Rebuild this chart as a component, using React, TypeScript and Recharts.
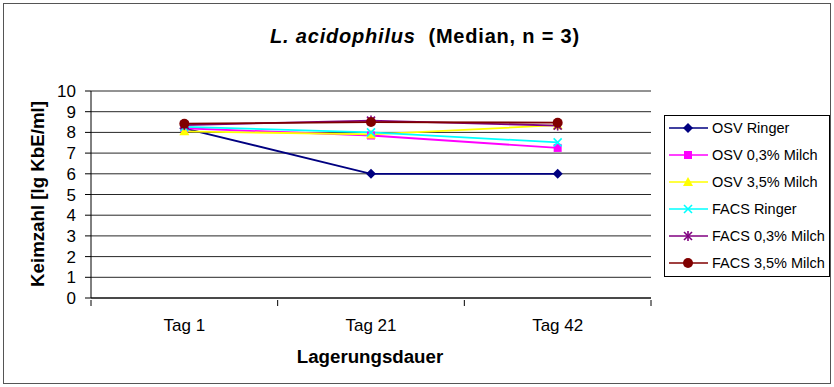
import React from "react";
import {
  LineChart,
  Line,
  XAxis,
  YAxis,
  CartesianGrid,
} from "recharts";

const FONT = "'Liberation Sans', Arial, sans-serif";

// Lagerungsdauer
const categories = ["Tag 1", "Tag 21", "Tag 42"];

// Keimzahl [lg KbE/ml], Median je Ansatz
const osvRinger = [8.2, 6.0, 6.0];
const osvMilch03 = [8.2, 7.85, 7.25];
const osvMilch35 = [8.05, 7.9, 8.35];
const facsRinger = [8.27, 8.0, 7.52];
const facsMilch03 = [8.35, 8.57, 8.33];
const facsMilch35 = [8.42, 8.5, 8.47];

const yTicks = [0, 1, 2, 3, 4, 5, 6, 7, 8, 9, 10];

type Shape = "diamond" | "square" | "triangle" | "cross" | "star" | "circle";

const series: { key: string; name: string; color: string; shape: Shape; values: number[] }[] = [
  { key: "osvRinger", name: "OSV Ringer", color: "#000080", shape: "diamond", values: osvRinger },
  { key: "osvMilch03", name: "OSV 0,3% Milch", color: "#FF00FF", shape: "square", values: osvMilch03 },
  { key: "osvMilch35", name: "OSV 3,5% Milch", color: "#FFFF00", shape: "triangle", values: osvMilch35 },
  { key: "facsRinger", name: "FACS Ringer", color: "#00FFFF", shape: "cross", values: facsRinger },
  { key: "facsMilch03", name: "FACS 0,3% Milch", color: "#800080", shape: "star", values: facsMilch03 },
  { key: "facsMilch35", name: "FACS 3,5% Milch", color: "#800000", shape: "circle", values: facsMilch35 },
];

// categories sit in the middle of each band (0.5, 1.5, 2.5)
const data = categories.map((c, i) => {
  const row: Record<string, number | string> = { name: c, x: i + 0.5 };
  series.forEach((s) => {
    row[s.key] = s.values[i];
  });
  return row;
});

const xTicks = [0, 0.5, 1, 1.5, 2, 2.5, 3];

function Marker({ shape, color, cx, cy }: { shape: Shape; color: string; cx: number; cy: number }) {
  switch (shape) {
    case "diamond":
      return (
        <polygon
          points={`${cx},${cy - 5} ${cx + 5},${cy} ${cx},${cy + 5} ${cx - 5},${cy}`}
          fill={color}
        />
      );
    case "square":
      return <rect x={cx - 4} y={cy - 4} width={8} height={8} fill={color} />;
    case "triangle":
      return (
        <polygon
          points={`${cx},${cy - 5} ${cx + 5},${cy + 4} ${cx - 5},${cy + 4}`}
          fill={color}
        />
      );
    case "cross":
      return (
        <g stroke={color} strokeWidth={1.6}>
          <line x1={cx - 4} y1={cy - 4} x2={cx + 4} y2={cy + 4} />
          <line x1={cx - 4} y1={cy + 4} x2={cx + 4} y2={cy - 4} />
        </g>
      );
    case "star":
      return (
        <g stroke={color} strokeWidth={1.6}>
          <line x1={cx - 4} y1={cy - 4} x2={cx + 4} y2={cy + 4} />
          <line x1={cx - 4} y1={cy + 4} x2={cx + 4} y2={cy - 4} />
          <line x1={cx} y1={cy - 5} x2={cx} y2={cy + 5} />
        </g>
      );
    default:
      return <circle cx={cx} cy={cy} r={5} fill={color} />;
  }
}

// tick marks between the categories, labels in the middle of each band
function CategoryTick(props: any) {
  const { x, y, payload } = props;
  const v = payload.value as number;
  if (Number.isInteger(v)) {
    return <line x1={x} y1={y - 6} x2={x} y2={y} stroke="#000" strokeWidth={1} />;
  }
  return (
    <text x={x} y={y + 25} textAnchor="middle" fontSize={17} fontFamily={FONT} fill="#000">
      {categories[Math.floor(v)]}
    </text>
  );
}

function LegendBox() {
  return (
    <div
      style={{
        position: "absolute",
        left: 664,
        top: 115,
        width: 164,
        height: 160,
        border: "1px solid #000",
        background: "#fff",
        fontFamily: FONT,
        fontSize: 14.5,
      }}
    >
      <div style={{ marginTop: -2 }}>
        {series.map((s) => (
          <div key={s.key} style={{ display: "flex", alignItems: "center", height: 27 }}>
            <svg width={47} height={14} style={{ flex: "none" }}>
              <line x1={4} y1={7} x2={43} y2={7} stroke={s.color} strokeWidth={1.5} />
              <Marker shape={s.shape} color={s.color} cx={23} cy={7} />
            </svg>
            <span style={{ whiteSpace: "nowrap" }}>{s.name}</span>
          </div>
        ))}
      </div>
    </div>
  );
}

export default function App() {
  return (
    <div
      style={{
        position: "absolute",
        left: 0,
        top: 0,
        width: 834,
        height: 387,
        background: "#fff",
        fontFamily: FONT,
      }}
    >
      <div
        style={{
          position: "absolute",
          left: 3,
          top: 3,
          width: 826,
          height: 379,
          border: "1px solid #555",
        }}
      />
      <div
        style={{
          position: "absolute",
          left: 0,
          top: 25,
          width: 850,
          textAlign: "center",
          fontWeight: "bold",
          fontSize: 20,
          letterSpacing: 0.8,
        }}
      >
        <i>L. acidophilus</i>&nbsp; (Median, n = 3)
      </div>
      <div
        style={{
          position: "absolute",
          left: 38 - 120,
          top: 194 - 11,
          width: 240,
          height: 22,
          lineHeight: "22px",
          textAlign: "center",
          fontWeight: "bold",
          fontSize: 18.7,
          transform: "rotate(-90deg)",
        }}
      >
        Keimzahl [lg KbE/ml]
      </div>
      <div
        style={{
          position: "absolute",
          left: 270,
          top: 346,
          width: 200,
          textAlign: "center",
          fontWeight: "bold",
          fontSize: 18.7,
        }}
      >
        Lagerungsdauer
      </div>
      <div style={{ position: "absolute", left: 0, top: 0 }}>
        <LineChart
          width={834}
          height={387}
          data={data}
          margin={{ top: 91, right: 183, bottom: 59, left: 31 }}
        >
          <CartesianGrid horizontal vertical={false} stroke="#000" strokeOpacity={0.85} />
          <XAxis
            dataKey="x"
            type="number"
            domain={[0, 3]}
            ticks={xTicks}
            interval={0}
            height={30}
            axisLine={{ stroke: "#000" }}
            tickLine={false}
            tick={<CategoryTick />}
          />
          <YAxis
            type="number"
            domain={[0, 10]}
            ticks={yTicks}
            interval={0}
            width={60}
            axisLine={{ stroke: "#000" }}
            tickLine={{ stroke: "#000" }}
            tickSize={6}
            tickMargin={9}
            tick={{ fontSize: 17, fontFamily: FONT, fill: "#000" }}
          />
          {series.map((s) => (
            <Line
              key={s.key}
              dataKey={s.key}
              name={s.name}
              stroke={s.color}
              strokeWidth={1.8}
              isAnimationActive={false}
              dot={(p: any) => (
                <Marker key={`${s.key}-${p.index}`} shape={s.shape} color={s.color} cx={p.cx} cy={p.cy} />
              )}
              activeDot={false}
            />
          ))}
        </LineChart>
      </div>
      <LegendBox />
    </div>
  );
}
